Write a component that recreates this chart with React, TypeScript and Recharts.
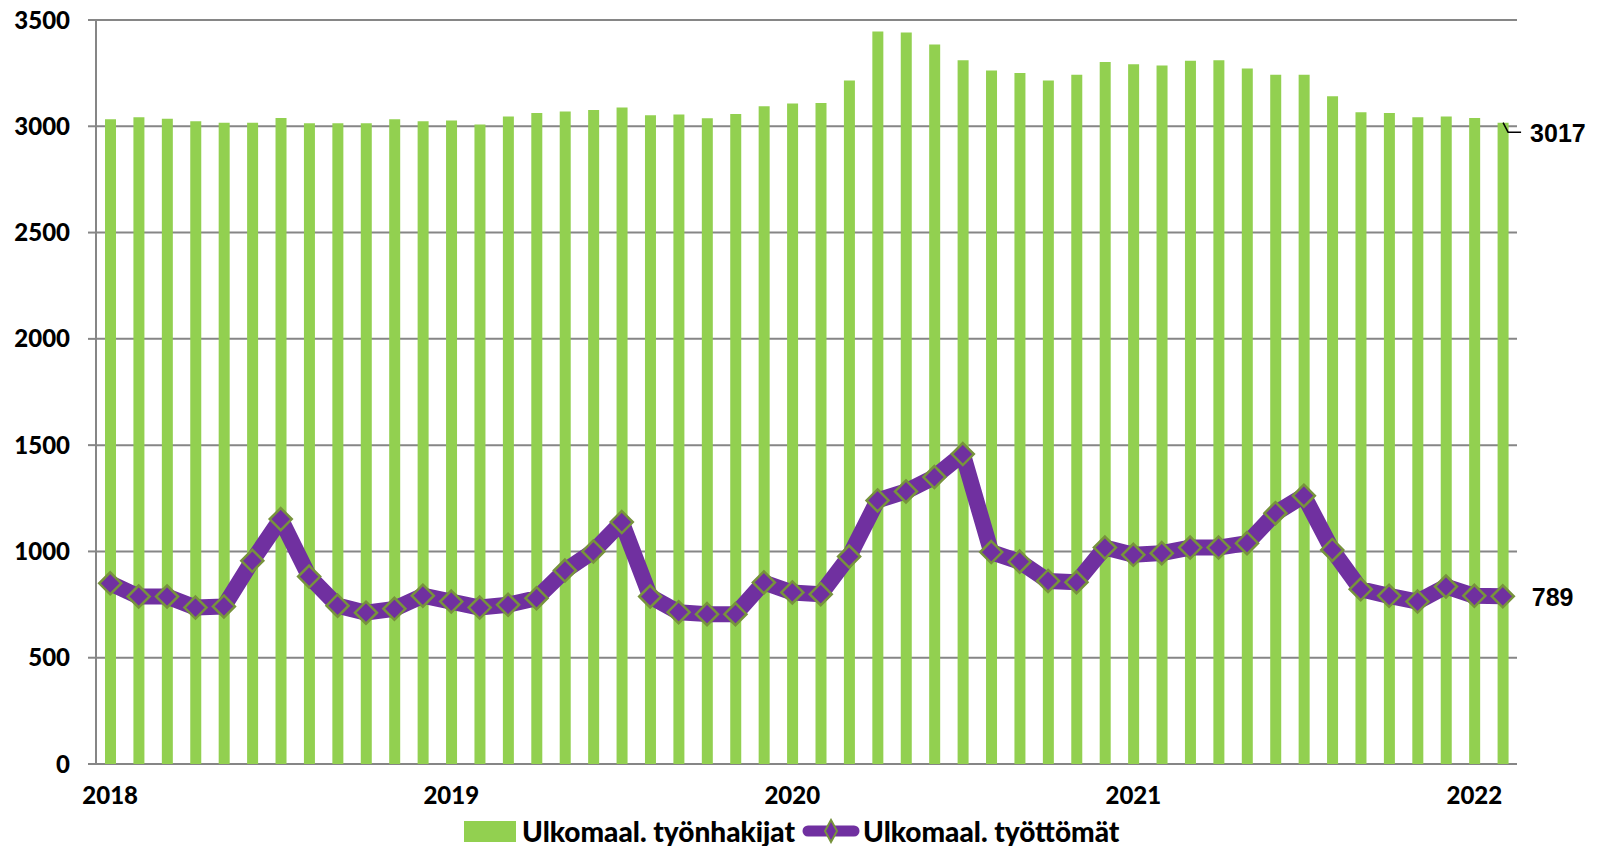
import { Bar, CartesianGrid, ComposedChart, LabelList, Line, XAxis, YAxis } from "recharts";

const months = [
  "2018-01", "2018-02", "2018-03", "2018-04", "2018-05", "2018-06", "2018-07", "2018-08", "2018-09", "2018-10", "2018-11", "2018-12",
  "2019-01", "2019-02", "2019-03", "2019-04", "2019-05", "2019-06", "2019-07", "2019-08", "2019-09", "2019-10", "2019-11", "2019-12",
  "2020-01", "2020-02", "2020-03", "2020-04", "2020-05", "2020-06", "2020-07", "2020-08", "2020-09", "2020-10", "2020-11", "2020-12",
  "2021-01", "2021-02", "2021-03", "2021-04", "2021-05", "2021-06", "2021-07", "2021-08", "2021-09", "2021-10", "2021-11", "2021-12",
  "2022-01", "2022-02",
];

// Ulkomaal. työnhakijat (bars)
const applicants = [
  3033, 3042, 3036, 3024, 3017, 3017, 3039, 3014, 3014, 3014, 3033, 3024,
  3027, 3008, 3046, 3063, 3069, 3077, 3088, 3052, 3055, 3038, 3058, 3094,
  3107, 3110, 3215, 3446, 3441, 3385, 3311, 3262, 3251, 3215, 3243, 3302,
  3292, 3286, 3308, 3311, 3272, 3242, 3243, 3141, 3066, 3063, 3042, 3046,
  3039, 3017,
];

// Ulkomaal. työttömät (line)
const unemployed = [
  850, 788, 788, 736, 741, 956, 1152, 882, 745, 712, 730, 792,
  764, 736, 749, 780, 910, 1000, 1138, 788, 714, 705, 705, 854,
  807, 799, 976, 1240, 1282, 1350, 1458, 997, 952, 861, 855, 1018,
  984, 992, 1018, 1018, 1039, 1180, 1262, 1007, 822, 791, 764, 835,
  791, 789,
];

const yTicks = [0, 500, 1000, 1500, 2000, 2500, 3000, 3500];

const data = months.map((m, i) => ({ month: m, applicants: applicants[i], unemployed: unemployed[i] }));
const boundaryTicks = [...months.map((_, i) => i), months.length];
const last = months.length - 1;

const GREEN = "#92D050";
const PURPLE = "#7030A0";
const OLIVE = "#77933C";
const AXIS = "#868686";
const tickFont = { fontFamily: "Lato", fontWeight: 900, fontSize: 24, fill: "#000" };

function Diamond(props: any) {
  const { cx, cy, index } = props;
  if (cx == null || cy == null) return null;
  const r = 11;
  return (
    <path
      key={`d-${index}`}
      d={`M${cx},${cy - r}L${cx + r},${cy}L${cx},${cy + r}L${cx - r},${cy}Z`}
      fill={PURPLE}
      stroke={OLIVE}
      strokeWidth={2.5}
    />
  );
}

function BarEndLabel(props: any) {
  const { x, y, width, value, index } = props;
  if (index !== last) return null;
  const cx = x + width / 2;
  return (
    <g>
      <path d={`M${cx},${y}L${cx + 5},${y + 9.5}L${cx + 18},${y + 9.5}`} stroke="#000" strokeWidth={1.5} fill="none" />
      <text x={cx + 27} y={y + 10} dominantBaseline="central" fontFamily="Liberation Sans" fontWeight={700} fontSize={25} fill="#000">
        {value}
      </text>
    </g>
  );
}

function LineEndLabel(props: any) {
  const { x, y, value, index } = props;
  if (index !== last) return null;
  return (
    <text x={x + 29} y={y + 1} dominantBaseline="central" fontFamily="Liberation Sans" fontWeight={700} fontSize={25} fill="#000">
      {value}
    </text>
  );
}

export default function App() {
  return (
    <div style={{ position: "absolute", left: 0, top: 0, width: 1604, height: 846, background: "#fff" }}>
      <ComposedChart width={1604} height={846} data={data} margin={{ top: 20, right: 87, bottom: 0, left: 0 }}>
        <CartesianGrid vertical={false} stroke={AXIS} strokeWidth={2} />
        <XAxis
          xAxisId="t"
          type="number"
          domain={[0, months.length]}
          allowDataOverflow
          ticks={boundaryTicks}
          interval={0}
          tickFormatter={() => ""}
          tickSize={7}
          height={0}
          stroke={AXIS}
          strokeWidth={2}
        />
        <XAxis
          dataKey="month"
          interval={0}
          axisLine={false}
          tickLine={false}
          tickSize={0}
          tickMargin={23}
          height={82}
          tick={tickFont}
          tickFormatter={(v: string) => (v.endsWith("-01") ? v.slice(0, 4) : "")}
        />
        <YAxis
          domain={[0, 3500]}
          ticks={yTicks}
          interval={0}
          width={96}
          tickSize={8}
          tickMargin={18}
          stroke={AXIS}
          strokeWidth={2}
          tick={tickFont}
        />
        <YAxis yAxisId="r" orientation="right" domain={[0, 3500]} width={0} tick={false} tickLine={false} stroke={AXIS} strokeWidth={2} />
        <Bar dataKey="applicants" fill={GREEN} barSize={11} isAnimationActive={false}>
          <LabelList dataKey="applicants" content={BarEndLabel} />
        </Bar>
        <Line
          dataKey="unemployed"
          stroke={PURPLE}
          strokeWidth={16}
          strokeLinejoin="round"
          dot={Diamond}
          activeDot={false}
          isAnimationActive={false}
        >
          <LabelList dataKey="unemployed" content={LineEndLabel} />
        </Line>
      </ComposedChart>
      <div
        style={{
          position: "absolute",
          left: 464,
          top: 815,
          display: "flex",
          alignItems: "center",
          fontFamily: "Lato",
          fontWeight: 900,
          fontSize: 28,
          lineHeight: "32px",
          color: "#000",
          whiteSpace: "nowrap",
        }}
      >
        <span style={{ display: "inline-block", width: 52, height: 21, background: GREEN, marginRight: 6 }} />
        <span>Ulkomaal. työnhakijat</span>
        <svg width={58} height={26} style={{ margin: "0 3px 0 7px" }}>
          <line x1={6} y1={13} x2={52} y2={13} stroke={PURPLE} strokeWidth={11} strokeLinecap="round" />
          <path d="M29,2L35,13L29,24L23,13Z" fill={PURPLE} stroke={OLIVE} strokeWidth={2} />
        </svg>
        <span>Ulkomaal. työttömät</span>
      </div>
    </div>
  );
}
